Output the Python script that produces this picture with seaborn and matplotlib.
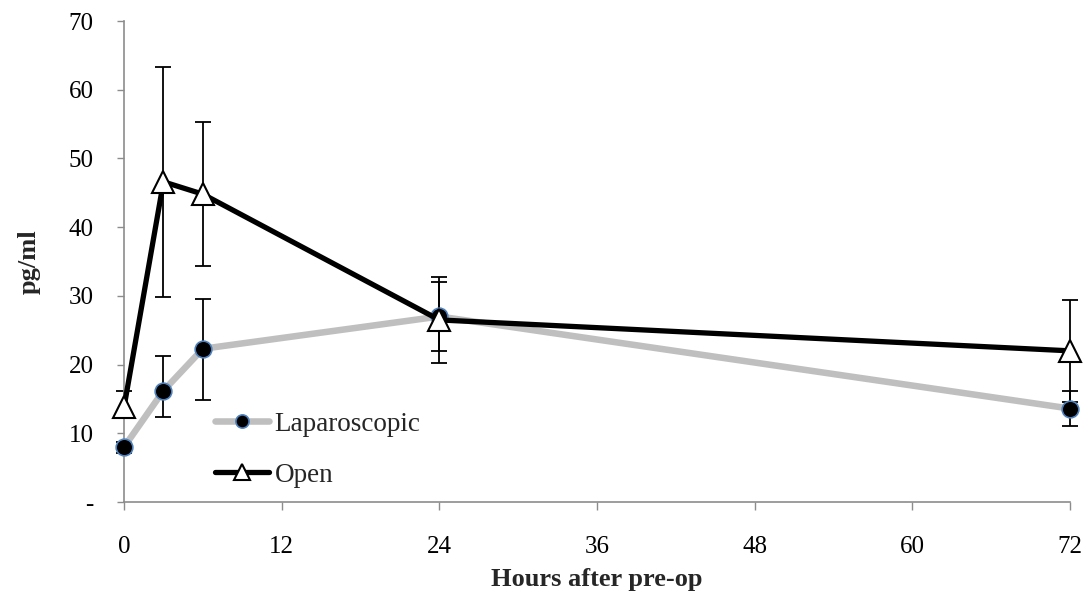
import numpy as np
import pandas as pd
import seaborn as sns
import matplotlib.pyplot as plt

# values
hours = [0, 3, 6, 24, 72]
lap_mean = [8.0, 16.2, 22.3, 27.0, 13.6]
lap_err_lo = [0.8, 3.9, 7.4, 5.0, 2.5]
lap_err_hi = [0.8, 5.1, 7.3, 5.0, 2.5]
open_mean = [13.8, 46.6, 44.8, 26.5, 22.0]
open_err_lo = [1.3, 16.7, 10.5, 6.2, 7.4]
open_err_hi = [2.3, 16.7, 10.5, 6.2, 7.4]
x_ticks = [0, 12, 24, 36, 48, 60, 72]
y_ticks = [0, 10, 20, 30, 40, 50, 60, 70]
y_labels = ['-', '10', '20', '30', '40', '50', '60', '70']

df = pd.DataFrame({'hours': hours, 'lap': lap_mean, 'open': open_mean})

sns.set_style('white')
plt.rcParams['font.family'] = ['Liberation Serif', 'DejaVu Serif']

fig = plt.figure(figsize=(10.91, 5.92), dpi=100)
ax = fig.add_axes([0.1137, 0.152, 0.867, 0.8125])

axis_grey = '#8c8c8c'

# error bars under the markers
for m, lo, hi in [(lap_mean, lap_err_lo, lap_err_hi), (open_mean, open_err_lo, open_err_hi)]:
    eb = ax.errorbar(hours, m, yerr=[lo, hi], fmt='none', ecolor='black',
                     elinewidth=1.3, capsize=5.5, capthick=1.3, zorder=2)
    for art in eb.lines[1] + eb.lines[2]:
        art.set_clip_on(False)

sns.lineplot(data=df, x='hours', y='lap', ax=ax, color='#bfbfbf', linewidth=4.7,
             marker='o', markersize=12, markerfacecolor='black',
             markeredgecolor='#4f81bd', markeredgewidth=1.2,
             label='Laparoscopic', zorder=3, clip_on=False)
sns.lineplot(data=df, x='hours', y='open', ax=ax, color='black', linewidth=3.8,
             marker='^', markersize=16, markerfacecolor='white',
             markeredgecolor='black', markeredgewidth=1.5,
             label='Open', zorder=4, clip_on=False)

ax.set_xlim(0, 72)
ax.set_ylim(0, 70)
ax.set_xticks(x_ticks)
ax.set_yticks(y_ticks)
ax.set_yticklabels(y_labels)
ax.tick_params(axis='both', labelsize=18, colors='black', width=1, direction='out')
ax.tick_params(axis='y', length=5, pad=17)
ax.tick_params(axis='x', length=5.5, pad=19)
ax.tick_params(axis='both', color=axis_grey)
ax.yaxis.set_ticks_position('left')
ax.xaxis.set_ticks_position('bottom')

for side in ['top', 'right']:
    ax.spines[side].set_visible(False)
for side in ['left', 'bottom']:
    ax.spines[side].set_color(axis_grey)
    ax.spines[side].set_linewidth(1.2)

ax.set_xlabel('Hours after pre-op', fontsize=19, fontweight='bold', labelpad=7)
ax.set_ylabel('pg/ml', fontsize=19, fontweight='bold', labelpad=20)

leg = ax.legend(loc='lower left', bbox_to_anchor=(0.096, 0.03), frameon=False,
                fontsize=19.5, handlelength=2.0, handletextpad=0.2,
                labelspacing=0.95, borderaxespad=0, borderpad=0)
handles = leg.legend_handles
handles[0].set_markersize(9.5)
handles[1].set_markersize(11)

fig.savefig('out.png', dpi=100)
